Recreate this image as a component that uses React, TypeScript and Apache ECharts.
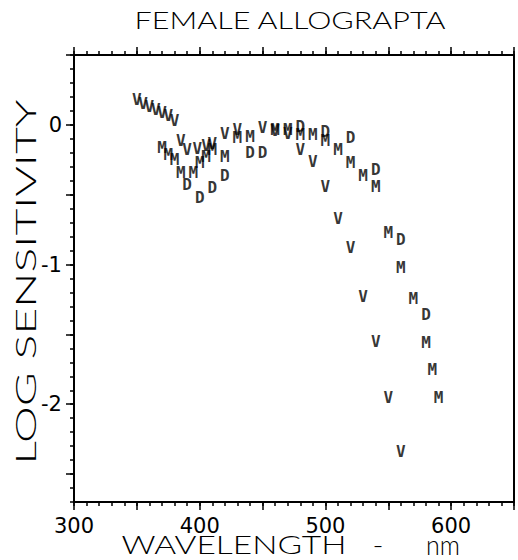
import React, { useEffect, useRef } from "react";
import * as echarts from "echarts";

// Spectral sensitivity readings (wavelength in nm, log sensitivity) for the three test series
const vWave = [350, 355, 360, 365, 370, 375, 380, 385, 390, 398, 405, 410, 420, 430, 450, 460, 470, 480, 490, 500, 510, 520, 530, 540, 550, 560];
const vLog = [0.18, 0.15, 0.13, 0.11, 0.09, 0.07, 0.03, -0.11, -0.18, -0.17, -0.15, -0.13, -0.06, -0.03, -0.02, -0.04, -0.06, -0.18, -0.26, -0.44, -0.67, -0.88, -1.23, -1.55, -1.95, -2.34];

const mWave = [370, 375, 380, 385, 395, 400, 405, 410, 420, 430, 440, 460, 470, 480, 490, 500, 510, 520, 530, 540, 550, 560, 570, 580, 585, 590];
const mLog = [-0.16, -0.21, -0.25, -0.34, -0.34, -0.27, -0.23, -0.18, -0.23, -0.09, -0.08, -0.03, -0.03, -0.07, -0.07, -0.11, -0.18, -0.27, -0.36, -0.44, -0.77, -1.02, -1.24, -1.56, -1.75, -1.95];

const dWave = [390, 400, 410, 420, 440, 450, 480, 500, 520, 540, 560, 580];
const dLog = [-0.43, -0.52, -0.45, -0.36, -0.2, -0.2, -0.01, -0.05, -0.09, -0.32, -0.82, -1.36];

// Axis labelling
const xTickLabels = [300, 400, 500, 600];
const yTickLabels = [0, -1, -2];
const yMajorTicks = [0.5, 0, -0.5, -1, -1.5, -2, -2.5];

const INK = "#000";
const MARK_FONT = '"DejaVu Sans Mono", monospace';
const LABEL_FONT = "Lato";

// Horizontal stretch so that a sans face spans the width of the wide plotter lettering
function stretchTo(text: string, fontSize: number, weight: number, width: number): number {
  const ctx = document.createElement("canvas").getContext("2d");
  if (!ctx) return 1;
  ctx.font = `${weight} ${fontSize}px ${LABEL_FONT}`;
  const w = ctx.measureText(text).width;
  return w > 0 ? width / w : 1;
}

function stretchedText(text: string, x: number, y: number, fontSize: number, weight: number, width: number, rotation = 0) {
  return {
    type: "text",
    x,
    y,
    rotation,
    scaleX: stretchTo(text, fontSize, weight, width),
    style: {
      text,
      fill: INK,
      fontFamily: LABEL_FONT,
      fontWeight: weight,
      fontSize,
      align: "center",
      verticalAlign: "middle",
    },
  };
}

function letterSeries(name: string, letter: string, xs: number[], ys: number[]) {
  return {
    name,
    type: "scatter",
    xAxisIndex: 0,
    yAxisIndex: 0,
    symbol: "circle",
    symbolSize: 1,
    itemStyle: { color: "rgba(0,0,0,0)" },
    data: xs.map((x, i) => [x, ys[i]]),
    label: {
      show: true,
      position: "inside",
      formatter: letter,
      color: INK,
      fontFamily: MARK_FONT,
      fontWeight: "bold",
      fontSize: 16,
    },
    emphasis: { disabled: true },
  };
}

const tickLine = { color: INK, width: 1.5 };

export default function App() {
  const ref = useRef<HTMLDivElement>(null);

  useEffect(() => {
    if (!ref.current) return;
    const chart = echarts.init(ref.current, null, { renderer: "svg" });

    const xBase = {
      type: "value",
      min: 300,
      max: 650,
      splitLine: { show: false },
    };
    const yBase = {
      type: "value",
      min: -2.7,
      max: 0.5,
      splitLine: { show: false },
    };

    chart.setOption({
      animation: false,
      backgroundColor: "#fff",
      grid: { left: 74, right: 4, top: 55, bottom: 58, containLabel: false },
      xAxis: [
        {
          ...xBase,
          position: "bottom",
          interval: 10,
          axisLine: { onZero: false, lineStyle: { color: INK, width: 2 } },
          axisTick: { length: 4, lineStyle: tickLine },
          axisLabel: {
            margin: 13,
            color: INK,
            fontFamily: "DejaVu Sans",
            fontSize: 21,
            formatter: (v: number) => {
              const r = Math.round(v);
              return Math.abs(v - r) < 1e-6 && xTickLabels.includes(r) ? String(r) : "";
            },
          },
        },
        {
          ...xBase,
          position: "bottom",
          interval: 50,
          axisLine: { show: false, onZero: false },
          axisTick: { length: 8, lineStyle: tickLine },
          axisLabel: { show: false },
        },
        {
          ...xBase,
          position: "top",
          interval: 10,
          axisLine: { onZero: false, lineStyle: { color: INK, width: 2 } },
          axisTick: { length: 4, lineStyle: tickLine },
          axisLabel: { show: false },
        },
        {
          ...xBase,
          position: "top",
          interval: 50,
          axisLine: { show: false, onZero: false },
          axisTick: { length: 8, lineStyle: tickLine },
          axisLabel: { show: false },
        },
      ],
      yAxis: [
        {
          ...yBase,
          position: "left",
          interval: 0.1,
          axisLine: { onZero: false, lineStyle: { color: INK, width: 2 } },
          axisTick: { length: 4, lineStyle: tickLine },
          axisLabel: {
            margin: 12,
            color: INK,
            fontFamily: "DejaVu Sans",
            fontSize: 21,
            formatter: (v: number) => {
              const r = Math.round(v);
              return Math.abs(v - r) < 1e-6 && yTickLabels.includes(r) ? String(r) : "";
            },
          },
        },
        {
          ...yBase,
          position: "left",
          axisLine: { show: false, onZero: false },
          axisTick: { length: 8, lineStyle: tickLine, customValues: yMajorTicks },
          axisLabel: { show: false },
        },
        {
          ...yBase,
          position: "right",
          axisLine: { onZero: false, lineStyle: { color: INK, width: 2 } },
          axisTick: { show: false },
          axisLabel: { show: false },
        },
      ],
      graphic: [
        stretchedText("FEMALE ALLOGRAPTA", 290, 20, 23, 300, 312),
        stretchedText("WAVELENGTH", 234, 544, 26, 300, 225),
        stretchedText("-", 378, 544, 26, 300, 11),
        stretchedText("nm", 443, 544, 28, 300, 34),
        stretchedText("LOG SENSITIVITY", 25, 282, 27, 300, 365, Math.PI / 2),
      ],
      series: [
        letterSeries("D", "D", dWave, dLog),
        letterSeries("M", "M", mWave, mLog),
        letterSeries("V", "V", vWave, vLog),
      ],
    });

    return () => chart.dispose();
  }, []);

  return <div ref={ref} style={{ position: "absolute", left: 0, top: 0, width: 518, height: 560 }} />;
}
